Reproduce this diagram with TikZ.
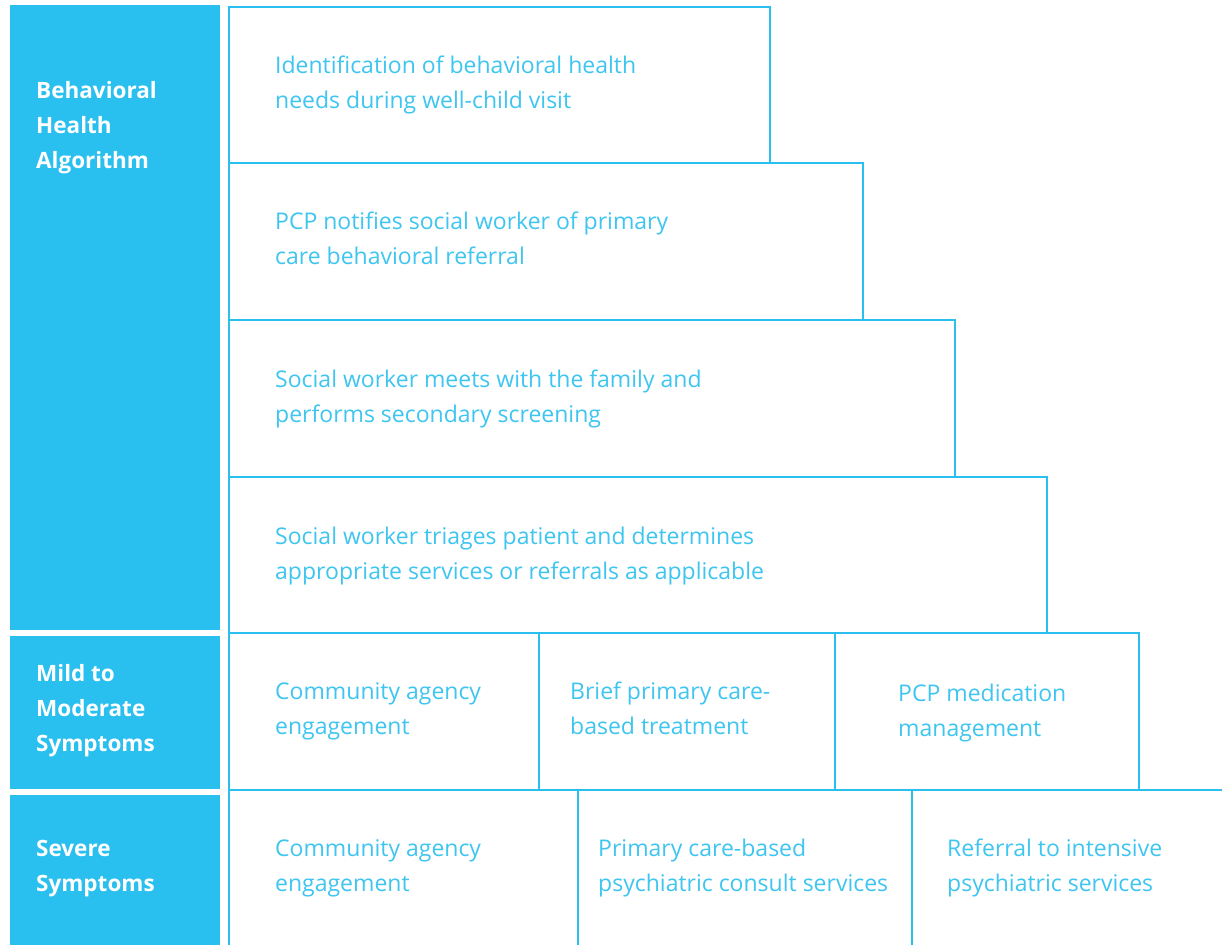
\documentclass[tikz,border=0pt]{standalone}
\usepackage{fontspec}
\setmainfont{Open Sans}
\definecolor{sky}{RGB}{41,191,239}
\definecolor{skytext}{RGB}{62,197,240}
\begin{document}
\begin{tikzpicture}[x=1pt,y=-1pt,
  box/.style={draw=sky,line width=2.5pt},
  lab/.style={anchor=base west,inner sep=0pt,align=left,font=\fontsize{22.5}{35}\selectfont\bfseries,text=white},
  txt/.style={anchor=base west,inner sep=0pt,align=left,font=\fontsize{23}{35}\selectfont,text=skytext}]
\useasboundingbox (0,0) rectangle (1222,945);
\fill[white] (0,0) rectangle (1222,945);
% left column
\fill[sky] (10,5) rectangle (220,630);
\fill[sky] (10,636) rectangle (220,789);
\fill[sky] (10,795) rectangle (220,945);
\node[lab] (l1) at (36,168) {Behavioral\\Health\\Algorithm};
\node[lab] (l2) at (36,751) {Mild to\\Moderate\\Symptoms};
\node[lab] (l3) at (36,891) {Severe\\Symptoms};
% pyramid steps
\draw[box] (229,7) rectangle (770,163);
\draw[box] (229,163) rectangle (863,320);
\draw[box] (229,320) rectangle (955,477);
\draw[box] (229,477) rectangle (1047,633);
% mild row
\draw[box] (229,633) rectangle (539,790);
\draw[box] (539,633) rectangle (835,790);
\draw[box] (835,633) rectangle (1139,790);
% severe row
\draw[box] (229,945) -- (229,790) -- (1222,790);
\draw[box] (578,790) -- (578,945);
\draw[box] (912,790) -- (912,945);
% texts
\node[txt] (t1) at (275,108) {Identification of behavioral health\\needs during well-child visit};
\node[txt] (t2) at (275,264) {PCP notifies social worker of primary\\care behavioral referral};
\node[txt] (t3) at (275,422) {Social worker meets with the family and\\performs secondary screening};
\node[txt] (t4) at (275,579) {Social worker triages patient and determines\\appropriate services or referrals as applicable};
\node[txt] (m1) at (275,734) {Community agency\\engagement};
\node[txt] (m2) at (570,734) {Brief primary care-\\based treatment};
\node[txt] (m3) at (898,736) {PCP medication\\management};
\node[txt] (s1) at (275,891) {Community agency\\engagement};
\node[txt] (s2) at (598,891) {Primary care-based\\psychiatric consult services};
\node[txt] (s3) at (947,891) {Referral to intensive\\psychiatric services};
\end{tikzpicture}
\end{document}
